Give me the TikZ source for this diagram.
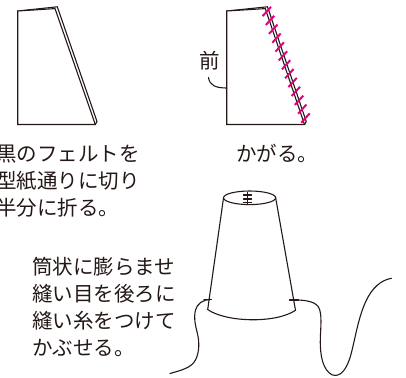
\documentclass[tikz,border=0pt]{standalone}
\usepackage{fontspec}
\usetikzlibrary{calc}
\newfontfamily\jp{Noto Sans CJK JP}
\definecolor{ink}{RGB}{35,24,21}
\definecolor{pinkst}{RGB}{228,0,127}
\tikzset{
  outline/.style={draw=ink, line width=1.1pt, line join=miter},
  thread/.style={draw=ink, line width=1.1pt, line cap=round},
  stitch/.style={draw=pinkst, line width=2pt},
  jptext/.style={inner sep=0pt, anchor=base west, text=ink, font=\jp\fontsize{20.5}{27}\selectfont},
}
\begin{document}
\begin{tikzpicture}[x=1pt,y=-1pt]
\useasboundingbox (0,0) rectangle (406,377);
% ---- figure 1 : folded felt
\draw[outline] (17.7,11) -- (57.3,6.8) -- (97,121.5) -- (95.3,124.5);
\draw[outline,fill=white] (17.7,11) -- (55,8.6) -- (95.3,124.5) -- (17.7,124.5) -- cycle;
\node[jptext] (t1a) at (-4,161) {黒のフェルトを};
\node[jptext] (t1b) at (-4,188) {型紙通りに切り};
\node[jptext] (t1c) at (-4,215) {半分に折る。};
% ---- figure 2 : whipstitched
\draw[outline] (226.7,11) -- (267.5,6.8) -- (306.2,121.5) -- (304.5,124.5);
\draw[outline,fill=white] (226.7,11) -- (265.3,8.6) -- (304.5,124.5) -- (226.7,124.5) -- cycle;
\foreach \t in {0,...,12}{
  \coordinate (s) at ($(266.8,11.5)!\t/12!(305.5,118)$);
  \draw[stitch] ($(s)+(-4.2,4.6)$) -- ($(s)+(4.2,-4.6)$);
}
\node[jptext,anchor=base] (mae) at (209.5,69) {前};
\coordinate (maeA) at (208.5,77.5);
\coordinate (maeB) at (226.7,88);
\draw[thread] (maeA) .. controls (209.5,85.5) and (216,88) .. (maeB);
\node[jptext] (t2) at (236,161) {かがる。};
% ---- figure 3 : cone
\coordinate (cl) at (223.5,198);
\coordinate (cr) at (275.7,198);
\coordinate (bl) at (207.7,309.5);
\coordinate (br) at (295.5,310.3);
\draw[outline] (249.6,197.8) ellipse [x radius=26.1, y radius=6.8];
\draw[outline] (cl) -- (bl) .. controls (225,322) and (275,324) .. (br) -- (cr);
\draw[thread] (247.5,192.5) -- (247.5,204.6);
\foreach \yy in {195,199,202.8}{\draw[thread] (243.5,\yy) -- (251.6,\yy);}
% ticks
\draw[thread] (204,299.5) -- (211.5,299.5);
\draw[thread] (289.5,300) -- (298.5,300);
% left thread
\draw[thread] (210,299.5) .. controls (203,299.5) and (197,304) .. (195.5,310)
  .. controls (193.5,318) and (195.5,326) .. (197.3,333)
  .. controls (199.5,342) and (199.5,352) .. (195.5,360)
  .. controls (191,368) and (182,370) .. (170,373.5);
% right thread
\draw[thread] (292,299.8) .. controls (303,300) and (314,300.5) .. (318.5,307)
  .. controls (322.5,314) and (320.5,328) .. (320.3,340)
  .. controls (320,356) and (323,370) .. (332,374.8)
  .. controls (341,378) and (347,368) .. (350.5,356)
  .. controls (355,340) and (358,318) .. (366,301)
  .. controls (372,288) and (381,280) .. (391.5,278.3);
\node[jptext] (t3a) at (32,274.5) {筒状に膨らませ};
\node[jptext] (t3b) at (32,301.5) {縫い目を後ろに};
\node[jptext] (t3c) at (32,328.5) {縫い糸をつけて};
\node[jptext] (t3d) at (32,355.5) {かぶせる。};
\end{tikzpicture}
\end{document}
